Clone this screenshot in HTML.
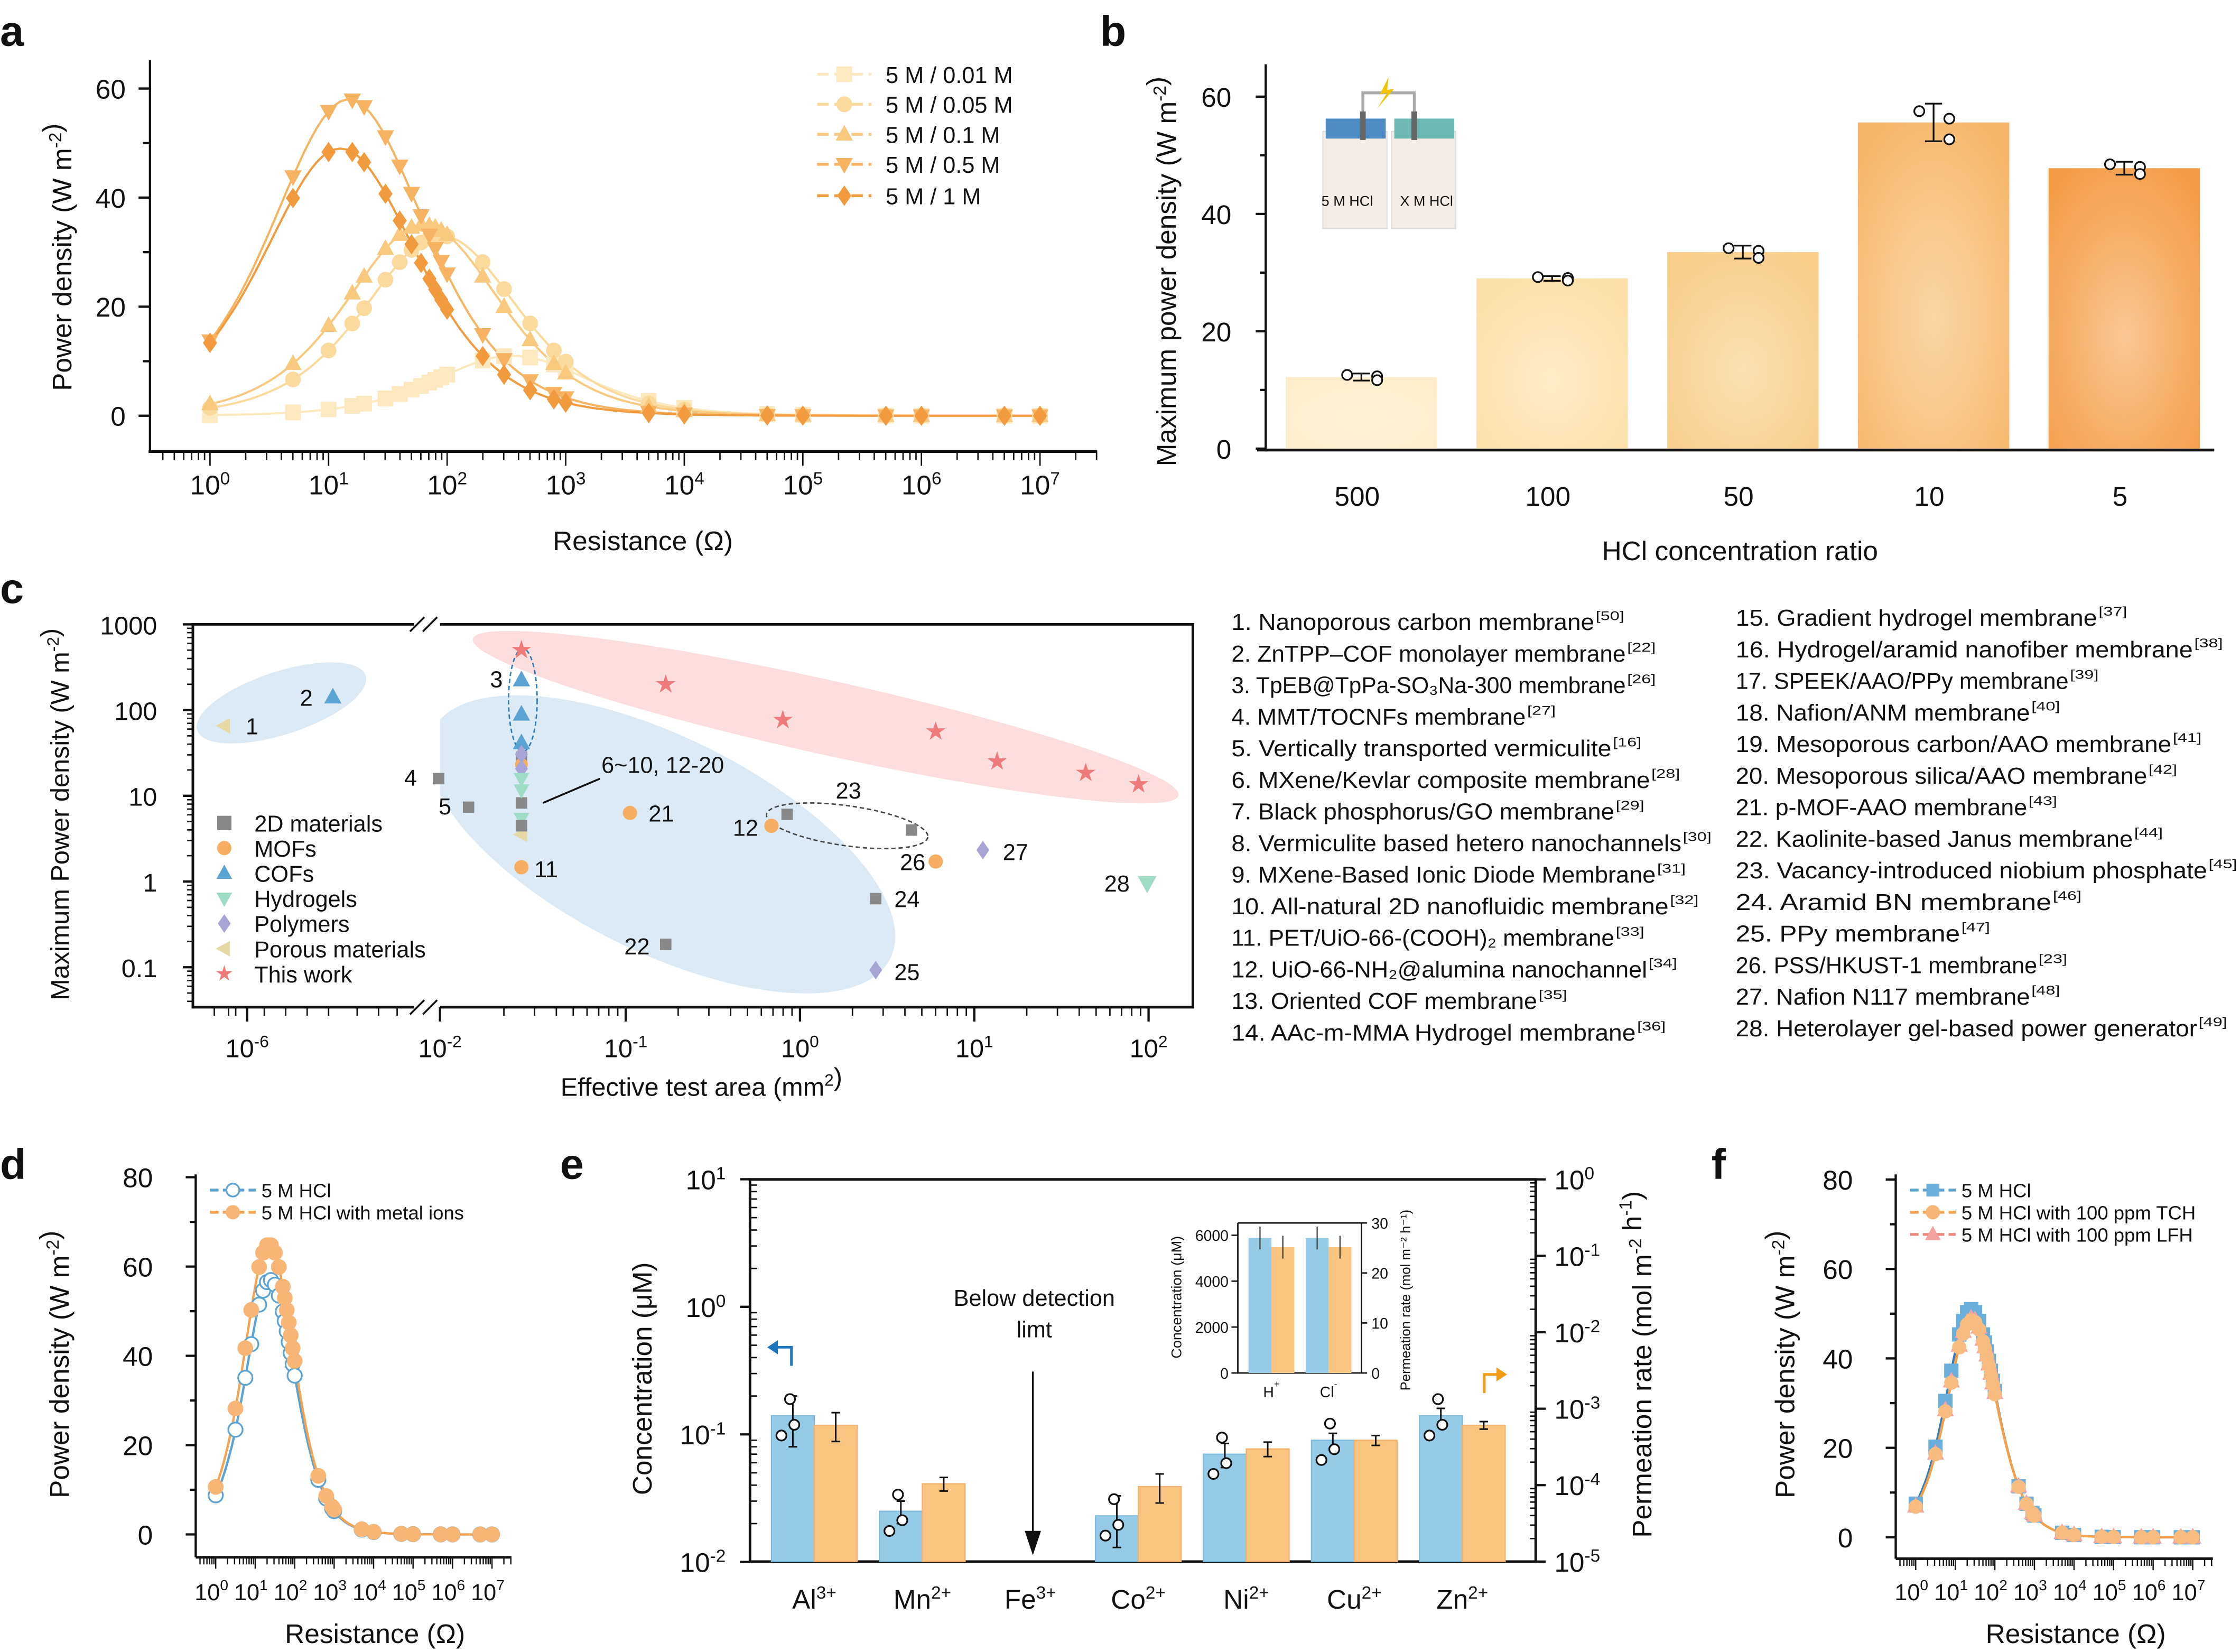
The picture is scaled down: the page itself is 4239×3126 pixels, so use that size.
<!DOCTYPE html>
<html><head><meta charset="utf-8"><style>
html,body{margin:0;padding:0;background:#fff}
svg{display:block}
text{font-family:"Liberation Sans",sans-serif;fill:#111}
</style></head><body>
<svg id="s" xmlns="http://www.w3.org/2000/svg" width="4239" height="3126" viewBox="0 0 1568 1156.3" preserveAspectRatio="none">
<defs>
<radialGradient id="g0" cx="50%" cy="60%" r="70%"><stop offset="0" stop-color="#fef3d8"/><stop offset="1" stop-color="#fdedc9"/></radialGradient>
<radialGradient id="g1" cx="50%" cy="60%" r="70%"><stop offset="0" stop-color="#fdecc6"/><stop offset="1" stop-color="#fbdfa8"/></radialGradient>
<radialGradient id="g2" cx="50%" cy="60%" r="70%"><stop offset="0" stop-color="#fbe0b3"/><stop offset="1" stop-color="#f8cd8a"/></radialGradient>
<radialGradient id="g3" cx="50%" cy="60%" r="70%"><stop offset="0" stop-color="#fad6a6"/><stop offset="1" stop-color="#f5b56a"/></radialGradient>
<radialGradient id="g4" cx="50%" cy="60%" r="70%"><stop offset="0" stop-color="#f9c694"/><stop offset="1" stop-color="#f29c45"/></radialGradient>
</defs>
<g id="root"></g>
</svg>
<script>
var R=document.getElementById('root'),out='';
function T(x,y,s,t,o){o=o||{};out+='<text x="'+x+'" y="'+y+'" font-size="'+s+'"'+(o.a?' text-anchor="'+o.a+'"':'')+(o.w?' font-weight="bold"':'')+(o.r?' transform="rotate(-90 '+x+' '+y+')"':'')+(o.tl?' textLength="'+o.tl+'" lengthAdjust="spacingAndGlyphs"':'')+(o.f?' style="fill:'+o.f+'"':'')+'>'+t+'</text>';}
function L(x1,y1,x2,y2,c,w,d){out+='<line x1="'+x1+'" y1="'+y1+'" x2="'+x2+'" y2="'+y2+'" stroke="'+(c||'#111')+'" stroke-width="'+(w||1.6)+'"'+(d?' stroke-dasharray="'+d+'"':'')+'/>';}
function P(d,c,w,f,dash){out+='<path d="'+d+'" stroke="'+(c||'none')+'" stroke-width="'+(w||1.5)+'" fill="'+(f||'none')+'"'+(dash?' stroke-dasharray="'+dash+'"':'')+'/>';}
function M(t,x,y,s,f,st){var a=' fill="'+f+'" stroke="'+(st||'none')+'" stroke-width="1.2"';
 if(t=='s')out+='<rect x="'+(x-s)+'" y="'+(y-s)+'" width="'+2*s+'" height="'+2*s+'"'+a+'/>';
 else if(t=='c')out+='<circle cx="'+x+'" cy="'+y+'" r="'+s+'"'+a+'/>';
 else if(t=='u')out+='<path d="M'+x+' '+(y-s*1.2)+'L'+(x+s*1.1)+' '+(y+s*.8)+'L'+(x-s*1.1)+' '+(y+s*.8)+'Z"'+a+'/>';
 else if(t=='v')out+='<path d="M'+x+' '+(y+s*1.2)+'L'+(x+s*1.1)+' '+(y-s*.8)+'L'+(x-s*1.1)+' '+(y-s*.8)+'Z"'+a+'/>';
 else if(t=='d')out+='<path d="M'+x+' '+(y-s*1.3)+'L'+(x+s*.9)+' '+y+'L'+x+' '+(y+s*1.3)+'L'+(x-s*.9)+' '+y+'Z"'+a+'/>';
 else if(t=='l')out+='<path d="M'+(x-s*1.2)+' '+y+'L'+(x+s*.8)+' '+(y-s*1.1)+'L'+(x+s*.8)+' '+(y+s*1.1)+'Z"'+a+'/>';
 else if(t=='*'){var p='';for(var i=0;i<10;i++){var r=i%2?s*.45:s*1.2,an=-Math.PI/2+i*Math.PI/5;p+=(i?'L':'M')+(x+r*Math.cos(an)).toFixed(2)+' '+(y+r*Math.sin(an)).toFixed(2);}out+='<path d="'+p+'Z"'+a+'/>';}
}
function pd(lr,Pm,r0){var R=Math.pow(10,lr),r=Math.pow(10,r0);return Pm*4*R*r/((R+r)*(R+r));}
function sup(b,e){return b+'<tspan dy="-7" font-size="0.65em">'+e+'</tspan>';}
var LR=[0,0.7,1,1.2,1.3,1.48,1.6,1.7,1.78,1.85,1.9,1.95,2,2.3,2.48,2.7,2.9,3,3.7,4,4.7,5,5.7,6,6.7,7];

/* ---------- panel a ---------- */
T(0,32,30,'a',{w:1});
(function(){var x0=147,dec=83,y0=291,k=3.817;
L(105,42,105,316,'#111',1.6);L(104,316,768,316,'#111',2);
[0,20,40,60].forEach(function(v){L(97,y0-v*k,105,y0-v*k);T(88,y0-v*k+7,19,v,{a:'end'});});
[10,30,50].forEach(function(v){L(100,y0-v*k,105,y0-v*k);});
for(var k2=-1;k2<8;k2++){for(var m=1;m<10;m++){var x=x0+dec*(k2+Math.log10(m));if(x<106||x>768)continue;L(x,316,x,m==1?326:322,'#111',1);}}
for(var i=0;i<=7;i++)T(x0+i*dec,346,19,sup('10',i),{a:'middle'});
T(450,385,19,'Resistance (Ω)',{a:'middle'});
T(50,180,19,sup('Power density (W m','-2')+')',{a:'middle',r:1});
var S=[['s',11,2.55,'#fde9bf'],['c',33,1.95,'#fcd99c'],['u',35,1.8,'#f9c980'],['v',58,1.17,'#f6b463'],['d',49,1.1,'#f29a3e']];
S.forEach(function(s){var d='';for(var l=0;l<=7.0001;l+=0.05){var v=pd(l,s[1],s[2]);d+=(l?'L':'M')+(x0+l*dec).toFixed(1)+' '+(y0-v*k).toFixed(1);}P(d,s[3],1.5);});
S.forEach(function(s){LR.forEach(function(l){M(s[0],x0+l*dec,y0-pd(l,s[1],s[2])*k,5.5,s[3]);});});
var ly=[52,73,94,115,137],lb=['5 M / 0.01 M','5 M / 0.05 M','5 M / 0.1 M','5 M / 0.5 M','5 M / 1 M'];
S.forEach(function(s,i){L(572,ly[i],610,ly[i],s[3],2,'8 4');M(s[0],591,ly[i],5.5,s[3]);T(620,ly[i]+6,16,lb[i]);});
})();

/* ---------- panel b ---------- */
T(770,32,30,'b',{w:1});
(function(){var y0=314,k=4.106;
L(886,45,886,316);L(880,315,1550,315,'#111',2);
[0,20,40,60].forEach(function(v){L(879,y0-v*k,886,y0-v*k);T(862,y0-v*k+7,19,v,{a:'end'});});
[10,30,50].forEach(function(v){L(882,y0-v*k,886,y0-v*k);});
var vals=[12.2,29,33.5,55.6,47.8],labs=['500','100','50','10','5'],er=[0.6,0.4,1.1,3.2,1.1];
vals.forEach(function(v,i){var x=900+i*133.5;out+='<rect x="'+x+'" y="'+(y0-v*k)+'" width="106" height="'+(v*k)+'" fill="url(#g'+i+')"/>';
var cx=x+53,cy=y0-v*k;L(cx,cy-er[i]*k,cx,cy+er[i]*k,'#111',1.2);L(cx-6,cy-er[i]*k,cx+6,cy-er[i]*k,'#111',1.2);L(cx-6,cy+er[i]*k,cx+6,cy+er[i]*k,'#111',1.2);
M('c',cx-10,cy-er[i]*k*0.6,3.5,'#fff','#111');M('c',cx+11,cy-er[i]*k*0.2,3.5,'#fff','#111');M('c',cx+11,cy+er[i]*k*0.9,3.5,'#fff','#111');
T(cx-3,354,19,labs[i],{a:'middle'});});
T(1218,392,19,'HCl concentration ratio',{a:'middle'});
T(823,190,19,sup('Maximum power density (W m','-2')+')',{a:'middle',r:1});
out+='<rect x="926" y="92" width="45" height="68" fill="#f3ece6" stroke="#ddd" stroke-width="0.8"/><rect x="974" y="92" width="45" height="68" fill="#f3ece6" stroke="#ddd" stroke-width="0.8"/>';
out+='<rect x="928" y="83" width="42" height="14" fill="#4f8cc4"/><rect x="976" y="83" width="42" height="14" fill="#6fb9b4"/>';
out+='<path d="M954 96V65H990V96" stroke="#aaa" stroke-width="2" fill="none"/><rect x="952" y="78" width="4" height="20" fill="#666"/><rect x="988" y="78" width="4" height="20" fill="#666"/>';
out+='<path d="M972 54L966 66L971 65L964 76L976 62L971 63Z" fill="#f5c400"/>';
T(925,144,10,'5 M HCl');T(980,144,10,'X M HCl');
})();

/* ---------- panel c ---------- */
T(0,422,30,'c',{w:1});
(function(){
function Y(v){return 617-60*Math.log10(v);}
function X(v){if(v<1e-3)return 173+(Math.log10(v)+6)*(135/4);return 560+122*Math.log10(v);}
out+='<ellipse cx="197" cy="492" rx="62" ry="22" transform="rotate(-18 197 492)" fill="#dbeaf5"/>';
out+='<ellipse cx="463" cy="591" rx="179" ry="75" transform="rotate(26.5 463 591)" fill="#dbeaf5"/>';
out+='<ellipse cx="578" cy="502" rx="253" ry="26" transform="rotate(12.5 578 502)" fill="#fbdedd"/>';
P('M135 437H835V705H135Z','#111',1.8);
out+='<rect x="290" y="428" width="18" height="285" fill="#fff"/>';
P('M287 442L297 432M296 442L306 432','#111',1.3);P('M287 710L297 700M296 710L306 700','#111',1.3);
L(135,437,135,705,'#111',1.8);
[[1000,'1000'],[100,'100'],[10,'10'],[1,'1'],[0.1,'0.1']].forEach(function(a){L(128,Y(a[0]),135,Y(a[0]));T(110,Y(a[0])+7,18,a[1],{a:'end'});});
for(var d=-2;d<3;d++)for(var m=2;m<10;m++){var y=Y(Math.pow(10,d)*m);if(y>437&&y<705)L(131,y,135,y,'#111',1);}
[[1e-6,'-6'],[1e-2,'-2'],[0.1,'-1'],[1,'0'],[10,'1'],[100,'2']].forEach(function(a){var x=a[0]==1e-2?308:X(a[0]);L(x,705,x,715);T(x,740,18,sup('10',a[1]),{a:'middle'});});
for(var d2=-2;d2<3;d2++)for(var m2=2;m2<10;m2++){var x=560+122*(d2+Math.log10(m2));if(x>310&&x<835)L(x,705,x,711,'#111',1);}
[150,160,165,185,200,215,230,250,265,278].forEach(function(x){L(x,705,x,711,'#111',1);});
T(491,767,18,sup('Effective test area (mm','2')+')',{a:'middle'});
T(48,570,18,sup('Maximum Power density (W m','-2')+')',{a:'middle',r:1});
out+='<ellipse cx="366" cy="490" rx="10" ry="36" fill="none" stroke="#2b7bbf" stroke-width="1" stroke-dasharray="3 2"/>';
out+='<ellipse cx="593" cy="578" rx="57" ry="14" transform="rotate(8 593 578)" fill="none" stroke="#444" stroke-width="1" stroke-dasharray="3 2"/>';
var G='#888',O='#f6ae62',B='#5ba3d3',H='#9edcc5',Pu='#a9a4d6',Po='#e6d9a3',St='#ef7a7a';
[[365,455],[466,479],[548,504],[655,512],[698,533],[760,541],[797,549]].forEach(function(p){M('*',p[0],p[1],6,St);});
M('l',157,508,5,Po);M('u',233,488,5.5,B);
[476,500,520].forEach(function(y){M('u',365,y,5.5,B);});
M('s',365,530,4,G);M('c',365,535,4.5,O);M('d',365,528,5,Pu);M('d',365,538,5,Pu);M('v',365,545,5,H);M('s',365,562,4,G);M('v',365,553,5,H);M('v',365,573,5,H);M('l',365,584,5,Po);M('s',365,578,4,G);
M('s',307,545,4,G);M('s',328,565,4,G);M('c',441,569,5,O);M('c',365,607,5,O);M('s',551,570,4,G);M('c',540,578,5,O);M('s',638,581,4,G);M('c',655,603,5,O);M('d',688,595,5,Pu);M('s',613,629,4,G);M('v',803,618,6,H);M('s',466,661,4,G);M('d',613,679,5,Pu);
[['1',172,514],['2',210,494],['3',343,481],['4',283,550],['5',307,570],['6~10, 12-20',421,541],['21',454,575],['11',374,614],['12',513,585],['23',585,559],['26',630,609],['27',702,602],['28',773,624],['24',626,635],['22',437,668],['25',626,686]].forEach(function(a){T(a[1],a[2],16,a[0]);});
L(380,562,420,545,'#111',1.3);
var lg=[['s',G,'2D materials'],['c',O,'MOFs'],['u',B,'COFs'],['v',H,'Hydrogels'],['d',Pu,'Polymers'],['l',Po,'Porous materials'],['*',St,'This work']];
lg.forEach(function(a,i){var y=576+i*17.6;M(a[0],157,y,5,a[1]);T(178,y+6,16,a[2]);});
var A=[['1. Nanoporous carbon membrane','50',1138],['2. ZnTPP–COF monolayer membrane','22',1160],['3. TpEB@TpPa-SO₃Na-300 membrane','26',1160],['4. MMT/TOCNFs membrane','27',1090],['5. Vertically transported vermiculite','16',1150],['6. MXene/Kevlar composite membrane','28',1177],['7. Black phosphorus/GO membrane','29',1152],['8. Vermiculite based hetero nanochannels','30',1199],['9. MXene-Based Ionic Diode Membrane','31',1181],['10. All-natural 2D nanofluidic membrane','32',1190],['11. PET/UiO-66-(COOH)₂ membrane','33',1152],['12. UiO-66-NH₂@alumina nanochannel','34',1175],['13. Oriented COF membrane','35',1098],['14. AAc-m-MMA Hydrogel membrane','36',1167]];
var Bb=[['15. Gradient  hydrogel membrane','37',1490],['16. Hydrogel/aramid nanofiber membrane','38',1557],['17. SPEEK/AAO/PPy membrane','39',1470],['18. Nafion/ANM membrane','40',1443],['19. Mesoporous carbon/AAO membrane','41',1542],['20. Mesoporous silica/AAO membrane','42',1525],['21. p-MOF-AAO membrane','43',1441],['22. Kaolinite-based Janus membrane','44',1515],['23. Vacancy-introduced niobium phosphate','45',1567],['24. Aramid BN membrane','46',1458],['25. PPy membrane','47',1394],['26. PSS/HKUST-1 membrane','23',1448],['27. Nafion N117 membrane','48',1443],['28. Heterolayer gel-based power generator','49',1560]];
A.forEach(function(a,i){var y=441+i*22.1;T(862,y,16,a[0],{tl:a[2]-862-22});T(a[2]-21,y-7,9,'['+a[1]+']',{tl:20});});
Bb.forEach(function(a,i){var y=438+i*22.1;T(1215,y,16,a[0],{tl:a[2]-1215-22});T(a[2]-21,y-7,9,'['+a[1]+']',{tl:20});});
})();

/* ---------- panel d ---------- */
T(0,825,30,'d',{w:1});
function smallPlot(ax,x0,dec,y0,k,bot,right,series,leg,lbl){
L(ax,822,ax,bot);L(ax,bot,right,bot,'#111',1.8);
[0,20,40,60,80].forEach(function(v){L(ax-7,y0-v*k,ax,y0-v*k);T(ax-30,y0-v*k+7,19,v,{a:'end'});});
[10,30,50,70].forEach(function(v){L(ax-4,y0-v*k,ax,y0-v*k);});
for(var kk=-1;kk<8;kk++)for(var m=1;m<10;m++){var x=x0+dec*(kk+Math.log10(m));if(x<ax||x>right)continue;L(x,bot,x,bot+(m==1?8:5),'#111',0.9);}
for(var i=0;i<=7;i++)T(x0+i*dec-3,1120,16,sup('10',i),{a:'middle'});
T((ax+right)/2+15,1150,19,'Resistance (Ω)',{a:'middle'});
T(lbl,955,19,sup('Power density (W m','-2')+')',{a:'middle',r:1});
series.forEach(function(s){var d='';for(var l=0;l<=7.0001;l+=0.04){d+=(l?'L':'M')+(x0+l*dec).toFixed(1)+' '+(y0-pd(l,s.p,s.r)*k).toFixed(1);}P(d,s.lc,1.6);});
var pts=[0,0.5,0.75,0.9,1.1,1.2,1.3,1.4,1.5,1.6,1.7,1.75,1.8,1.85,1.9,1.95,2,2.6,2.8,2.95,3,3.7,4,4.7,5,5.7,6,6.7,7];
series.forEach(function(s){pts.forEach(function(l){M(s.m,x0+l*dec,y0-pd(l,s.p,s.r)*k,s.sz,s.f,s.st);});});
leg.forEach(function(g,i){var y=833+i*15.5;L(ax+10,y,ax+42,y,g.lc,2,'6 3');M(g.m,ax+26,y,g.sz-0.5,g.f,g.st);T(ax+46,y+5,13.5,g.t);});
}
smallPlot(137,151,27.63,1074,3.125,1090,358,
[{p:57,r:1.38,lc:'#5ba3d3',m:'c',sz:5,f:'#fff',st:'#5ba3d3'},{p:65,r:1.35,lc:'#f6a24f',m:'c',sz:5.5,f:'#f8b676'}],
[{lc:'#5ba3d3',m:'c',sz:5,f:'#fff',st:'#5ba3d3',t:'5 M HCl'},{lc:'#f6a24f',m:'c',sz:5.5,f:'#f8b676',t:'5 M HCl with metal ions'}],48);

/* ---------- panel f ---------- */
T(1198,825,30,'f',{w:1});
smallPlot(1327,1341,27.7,1076,3.13,1091,1549,
[{p:51,r:1.4,lc:'#2f7fc0',m:'s',sz:5,f:'#6aaedb'},{p:49,r:1.42,lc:'#f4a04a',m:'u',sz:5.5,f:'#f4a3a0'},{p:48.5,r:1.42,lc:'#f4a04a',m:'c',sz:5,f:'#f8bc80'}],
[{lc:'#5ba3d3',m:'s',sz:5,f:'#6aaedb',t:'5 M HCl'},{lc:'#f6a24f',m:'c',sz:5.5,f:'#f8b676',t:'5 M HCl with 100 ppm TCH'},{lc:'#ef8a80',m:'u',sz:5.5,f:'#f4a3a0',t:'5 M HCl with 100 ppm LFH'}],1256);

/* ---------- panel e ---------- */
T(392,825,30,'e',{w:1});
(function(){function Y(v){return 914.7-89.3*Math.log10(v);}
var bot=1093;P('M525 825.5H1075V1093H525Z','#111',1.8);
[[10,'1'],[1,'0'],[0.1,'-1'],[0.01,'-2']].forEach(function(a){L(518,Y(a[0]),525,Y(a[0]));T(508,Y(a[0])+7,19,sup('10',a[1]),{a:'end'});});
for(var d=-2;d<1;d++)for(var m=2;m<10;m++){var y=Y(Math.pow(10,d)*m);L(525,y,530,y,'#111',1);}
for(var j=0;j<=5;j++){var y=825.5+j*53.5;L(1075,y,1082,y);T(1088,y+7,19,sup('10',j===0?'0':'-'+j));for(var m=2;m<10;m++){var yy=y+53.5-53.5*Math.log10(m);if(j<5)L(1071,yy,1075,yy,'#111',1);}}
T(456,965,19,'Concentration (μM)',{a:'middle',r:1});
T(1156,955,19,sup('Permeation rate (mol m','-2')+' h<tspan dy="-7" font-size="0.65em">-1</tspan><tspan dy="7">)</tspan>',{a:'middle',r:1});
var b=[[0.14,0.118,'Al','3+'],[0.025,0.041,'Mn','2+'],[0,0,'Fe','3+'],[0.023,0.039,'Co','2+'],[0.07,0.077,'Ni','2+'],[0.09,0.09,'Cu','2+'],[0.14,0.118,'Zn','2+']];
var eb=[[0.06,0.03],[0.005,0.005],[0,0],[0.01,0.01],[0.015,0.01],[0.012,0.008],[0.02,0.008]];
b.forEach(function(g,i){var x=540+i*75.6;
if(g[0]){out+='<rect x="'+x+'" y="'+Y(g[0])+'" width="30" height="'+(bot-Y(g[0]))+'" fill="#95cbe6" stroke="#7ab8dc" stroke-width="0.8"/>';
out+='<rect x="'+(x+30)+'" y="'+Y(g[1])+'" width="30" height="'+(bot-Y(g[1]))+'" fill="#f9c480" stroke="#f4b06a" stroke-width="0.8"/>';
[[x+15,g[0],eb[i][0]],[x+45,g[1],eb[i][1]]].forEach(function(e){var t=Y(e[1]+e[2]),bb=Y(Math.max(e[1]-e[2],0.011));L(e[0],t,e[0],bb,'#111',1.1);L(e[0]-3,t,e[0]+3,t,'#111',1.1);L(e[0]-3,bb,e[0]+3,bb,'#111',1.1);});
M('c',x+7,Y(g[0]*0.7),3.5,'#fff','#111');M('c',x+13,Y(g[0]*1.35),3.5,'#fff','#111');M('c',x+16,Y(g[0]*0.85),3.5,'#fff','#111');}
T(x+30,1126,19,sup(g[2],g[3]),{a:'middle'});});
L(723,960,723,1077,'#111',1.2);P('M718 1072L728 1072L723 1087Z','#111',1,'#111');
T(724,914,16,'Below detection',{a:'middle'});T(724,936,16,'limt',{a:'middle'});
P('M554 956V943H542','#1d75bc',1.8);P('M544 939L538 943L544 947Z','#1d75bc',1,'#1d75bc');
P('M1039 975V962H1050','#f39c12',1.8);P('M1048 958L1054 962L1048 966Z','#f39c12',1,'#f39c12');
var iy0=961,ik=(961-864.6)/6000;
P('M866.5 856V961H953V856H866.5','#111',1);
[0,2000,4000,6000].forEach(function(v){L(862,iy0-v*ik,866.5,iy0-v*ik,'#111',1);T(860,iy0-v*ik+4,10.5,v,{a:'end'});});
[0,10,20,30].forEach(function(v){var y=961-v*(105/30);L(953,y,957,y,'#111',1);T(960,y+4,10.5,v);});
[[874,'H','+'],[914,'Cl','-']].forEach(function(a){var x=a[0];var h1=5880*ik,h2=5480*ik;
out+='<rect x="'+x+'" y="'+(iy0-h1)+'" width="16" height="'+h1+'" fill="#95cbe6"/><rect x="'+(x+16)+'" y="'+(iy0-h2)+'" width="16" height="'+h2+'" fill="#f9c480"/>';
L(x+8,iy0-h1-8,x+8,iy0-h1+8,'#333',0.8);L(x+24,iy0-h2-8,x+24,iy0-h2+8,'#333',0.8);
T(x+16,978,10.5,sup(a[1],a[2]),{a:'middle'});});
T(827,908,10,'Concentration (μM)',{a:'middle',r:1});
T(987,910,9.5,'Permeation rate (mol m⁻² h⁻¹)',{a:'middle',r:1});
})();
R.innerHTML=out;
</script>
</body></html>
